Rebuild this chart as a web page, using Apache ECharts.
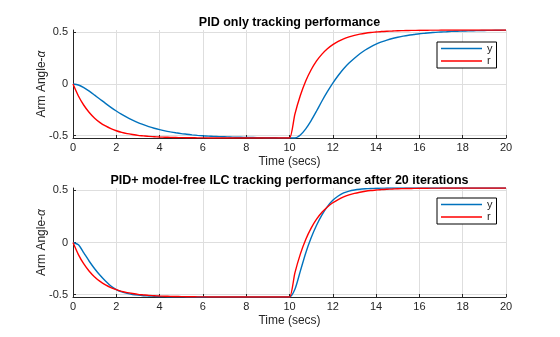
<!DOCTYPE html>
<html>
<head>
<meta charset="utf-8">
<script src="https://cdn.jsdelivr.net/npm/echarts@6/dist/echarts.min.js"></script>
<style>
  html, body { margin: 0; padding: 0; background: #fff; }
  #chart { width: 560px; height: 337px; }
</style>
</head>
<body>
<div id="chart"></div>
<script>
// Sample times (s), shared by all series
const tSec = [0,0.25,0.5,0.75,1,1.25,1.5,1.75,2,2.25,2.5,2.75,3,3.25,3.5,3.75,4,4.25,4.5,4.75,
              5,5.25,5.5,5.75,6,6.25,6.5,6.75,7,7.25,7.5,7.75,8,8.25,8.5,8.75,9,9.25,9.5,9.75,
              10,10.25,10.5,10.75,11,11.25,11.5,11.75,12,12.25,12.5,12.75,13,13.25,13.5,13.75,14,14.25,14.5,14.75,
              15,15.25,15.5,15.75,16,16.25,16.5,16.75,17,17.25,17.5,17.75,18,18.25,18.5,18.75,19,19.25,19.5,19.75,20];

// Reference signal r (same in both runs)
const rVals = [0,-0.116,-0.206,-0.276,-0.331,-0.374,-0.407,-0.433,-0.453,-0.469,-0.481,-0.490,-0.498,-0.503,-0.508,-0.511,-0.514,-0.516,-0.518,-0.519,
               -0.520,-0.521,-0.521,-0.522,-0.522,-0.523,-0.523,-0.523,-0.523,-0.523,-0.523,-0.523,-0.524,-0.524,-0.524,-0.524,-0.524,-0.524,-0.524,-0.524,
               -0.524,-0.292,-0.112,0.029,0.138,0.224,0.290,0.342,0.382,0.413,0.438,0.457,0.472,0.483,0.492,0.499,0.504,0.509,0.512,0.514,
               0.517,0.518,0.519,0.520,0.521,0.521,0.522,0.522,0.523,0.523,0.523,0.523,0.523,0.524,0.524,0.524,0.524,0.524,0.524,0.524,0.524];

// Output y with PID only
const y1Vals = [0,-0.010,-0.035,-0.069,-0.108,-0.148,-0.188,-0.226,-0.262,-0.294,-0.324,-0.350,-0.374,-0.394,-0.413,-0.429,-0.442,-0.454,-0.464,-0.473,
                -0.481,-0.487,-0.493,-0.498,-0.502,-0.505,-0.508,-0.510,-0.512,-0.514,-0.516,-0.517,-0.518,-0.519,-0.520,-0.520,-0.521,-0.521,-0.522,-0.522,
                -0.522,-0.524,-0.495,-0.435,-0.355,-0.262,-0.165,-0.075,0.008,0.082,0.148,0.203,0.250,0.293,0.330,0.360,0.386,0.408,0.426,0.441,
                0.453,0.464,0.473,0.480,0.487,0.492,0.497,0.501,0.504,0.507,0.510,0.512,0.514,0.515,0.517,0.518,0.519,0.520,0.521,0.521,0.522];

// Output y with PID + model-free ILC after 20 iterations
const y2Vals = [0,-0.022,-0.100,-0.180,-0.252,-0.315,-0.370,-0.418,-0.452,-0.474,-0.489,-0.499,-0.506,-0.511,-0.514,-0.517,-0.519,-0.520,-0.521,-0.522,
                -0.522,-0.523,-0.523,-0.523,-0.523,-0.524,-0.524,-0.524,-0.524,-0.524,-0.524,-0.524,-0.524,-0.524,-0.524,-0.524,-0.524,-0.524,-0.524,-0.524,
                -0.524,-0.450,-0.275,-0.100,0.045,0.165,0.265,0.345,0.405,0.447,0.476,0.494,0.505,0.512,0.516,0.519,0.521,0.522,0.523,0.524,
                0.524,0.524,0.524,0.524,0.524,0.524,0.524,0.524,0.524,0.524,0.524,0.524,0.524,0.524,0.524,0.524,0.524,0.524,0.524,0.524,0.524];

const titles = ['PID only tracking performance', 'PID+ model-free ILC tracking performance after 20 iterations'];
const xTicks = [0, 20, 2];          // min, max, step
const yTickVals = [-0.5, 0, 0.5];
const yLimit = 0.5236;

const zip = (t, v) => t.map((x, i) => [x, v[i]]);

const FONT = "'Liberation Sans', Arial, Helvetica, sans-serif";
const AX = '#262626';
const GRID = '#dedede';
const BLUE = '#0072BD';
const RED = '#FF0000';

// plain line glyph for legend entries (extra zero-size points span the full item height)
const LEGEND_LINE = 'path://M0,0L0.01,0ZM0,5.3L41,5.3L41,6.7L0,6.7ZM0,12L0.01,12Z';

const grids = [
  { left: 73, width: 433, top: 30, height: 108 },
  { left: 73, width: 433, top: 188, height: 109 }
];

function xAxis(i) {
  return {
    gridIndex: i, type: 'value', min: xTicks[0], max: xTicks[1], interval: xTicks[2],
    name: 'Time (secs)', nameLocation: 'middle', nameGap: 18,
    nameTextStyle: { fontFamily: FONT, fontSize: 12, color: AX },
    axisLine: { show: true, onZero: false, lineStyle: { color: AX, width: 1 } },
    axisTick: { show: true, inside: true, length: 3, lineStyle: { color: AX } },
    axisLabel: { fontFamily: FONT, fontSize: 11, color: AX, margin: 4 },
    splitLine: { show: true, lineStyle: { color: GRID, width: 1 } }
  };
}
function yAxis(i) {
  return {
    gridIndex: i, type: 'value', min: -yLimit, max: yLimit,
    name: 'Arm Angle-{a|α}', nameLocation: 'middle', nameGap: 25, nameRotate: 90,
    nameMoveOverlap: false,
    nameTextStyle: { fontFamily: FONT, fontSize: 12, color: AX,
      rich: { a: { fontFamily: FONT, fontSize: 12, color: AX, fontStyle: 'italic' } } },
    axisLine: { show: true, lineStyle: { color: AX, width: 1 } },
    axisTick: { show: true, inside: true, length: 3, customValues: yTickVals, lineStyle: { color: AX } },
    axisLabel: { fontFamily: FONT, fontSize: 11, color: AX, margin: 5, customValues: yTickVals,
      formatter: v => String(v) },
    splitLine: { show: true, lineStyle: { color: GRID, width: 1 } }
  };
}
function line(name, vals, color, i) {
  return {
    type: 'line', name, data: zip(tSec, vals), xAxisIndex: i, yAxisIndex: i,
    symbol: 'none', smooth: 0.25, clip: true,
    lineStyle: { color, width: 1.4 }, itemStyle: { color }, animation: false
  };
}
function legend(top) {
  return {
    orient: 'vertical', left: 437, top,
    data: [{ name: 'y', icon: LEGEND_LINE, itemStyle: { color: BLUE } },
           { name: 'r', icon: LEGEND_LINE, itemStyle: { color: RED } }],
    itemWidth: 41, itemHeight: 12, itemGap: 0.5,
    padding: [0.5, 4, 1, 4],
    backgroundColor: '#fff', borderColor: '#000', borderWidth: 1,
    textStyle: { fontFamily: FONT, fontSize: 11, color: AX, lineHeight: 12 },
    selectedMode: false
  };
}

const chart = echarts.init(document.getElementById('chart'), null, { renderer: 'canvas' });
chart.setOption({
  animation: false,
  backgroundColor: '#fff',
  title: titles.map((t, i) => ({
    text: t, left: 289.5, textAlign: 'center', top: i === 0 ? 16 : 174, padding: 0,
    textStyle: { fontFamily: FONT, fontSize: 12.5, fontWeight: 'bold', color: '#000' }
  })),
  grid: grids,
  xAxis: [xAxis(0), xAxis(1)],
  yAxis: [yAxis(0), yAxis(1)],
  legend: [legend(42), legend(198)],
  series: [
    line('y', y1Vals, BLUE, 0),
    line('r', rVals, RED, 0),
    line('y', y2Vals, BLUE, 1),
    line('r', rVals, RED, 1)
  ]
});
</script>
</body>
</html>
